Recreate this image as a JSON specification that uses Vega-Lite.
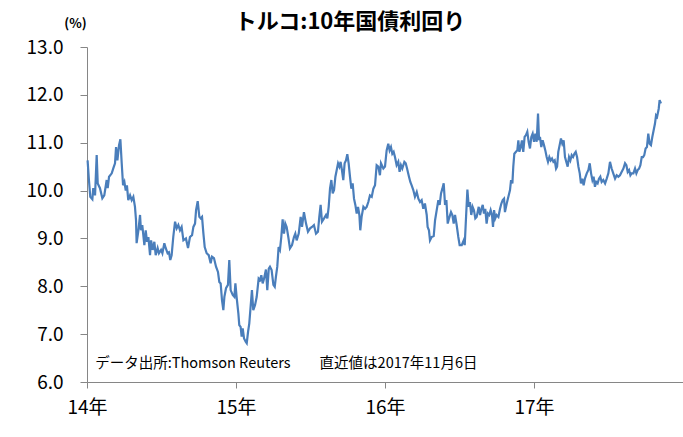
{
  "$schema": "https://vega.github.io/schema/vega-lite/v6.json",
  "autosize": {"type": "none"},
  "width": 596,
  "height": 335,
  "padding": {"left": 87, "top": 47, "right": 0, "bottom": 55},
  "background": "white",
  "config": {"view": {"stroke": null}, "font": "Noto Sans CJK JP"},
  "title": {"text": "トルコ:10年国債利回り", "fontSize": 22, "fontWeight": "bold", "font": "Noto Sans CJK JP", "color": "#000000", "anchor": "middle", "dx": -35, "offset": -17},
  "datasets": {
    "yield": [
      {"t": 2014.004, "v": 10.63}, {"t": 2014.013, "v": 10.22}, {"t": 2014.022, "v": 9.87}, {"t": 2014.036, "v": 9.82}, {"t": 2014.042, "v": 10.05}, {"t": 2014.054, "v": 9.90}, {"t": 2014.065, "v": 10.74}, {"t": 2014.072, "v": 10.15}, {"t": 2014.087, "v": 10.05}, {"t": 2014.103, "v": 9.84}, {"t": 2014.116, "v": 9.90}, {"t": 2014.132, "v": 10.22}, {"t": 2014.139, "v": 10.05}, {"t": 2014.148, "v": 10.29}, {"t": 2014.166, "v": 10.36}, {"t": 2014.177, "v": 10.47}, {"t": 2014.188, "v": 10.57}, {"t": 2014.195, "v": 10.91}, {"t": 2014.204, "v": 10.63}, {"t": 2014.215, "v": 10.95}, {"t": 2014.224, "v": 11.07}, {"t": 2014.233, "v": 10.57}, {"t": 2014.242, "v": 10.11}, {"t": 2014.251, "v": 10.18}, {"t": 2014.260, "v": 10.00}, {"t": 2014.268, "v": 10.11}, {"t": 2014.277, "v": 9.80}, {"t": 2014.289, "v": 9.90}, {"t": 2014.300, "v": 9.80}, {"t": 2014.311, "v": 9.87}, {"t": 2014.322, "v": 9.66}, {"t": 2014.329, "v": 9.38}, {"t": 2014.333, "v": 8.90}, {"t": 2014.345, "v": 9.17}, {"t": 2014.356, "v": 9.49}, {"t": 2014.362, "v": 9.17}, {"t": 2014.371, "v": 9.28}, {"t": 2014.385, "v": 8.86}, {"t": 2014.394, "v": 9.17}, {"t": 2014.403, "v": 8.93}, {"t": 2014.412, "v": 9.03}, {"t": 2014.423, "v": 8.65}, {"t": 2014.430, "v": 8.96}, {"t": 2014.441, "v": 8.76}, {"t": 2014.452, "v": 8.93}, {"t": 2014.461, "v": 8.65}, {"t": 2014.474, "v": 8.80}, {"t": 2014.483, "v": 8.69}, {"t": 2014.497, "v": 8.76}, {"t": 2014.506, "v": 8.69}, {"t": 2014.519, "v": 8.90}, {"t": 2014.528, "v": 8.80}, {"t": 2014.541, "v": 8.69}, {"t": 2014.550, "v": 8.71}, {"t": 2014.559, "v": 8.55}, {"t": 2014.568, "v": 8.65}, {"t": 2014.579, "v": 9.03}, {"t": 2014.591, "v": 9.35}, {"t": 2014.602, "v": 9.21}, {"t": 2014.613, "v": 9.28}, {"t": 2014.624, "v": 9.17}, {"t": 2014.635, "v": 9.24}, {"t": 2014.647, "v": 8.96},
      {"t": 2014.664, "v": 9.00}, {"t": 2014.678, "v": 8.80}, {"t": 2014.691, "v": 9.03}, {"t": 2014.705, "v": 9.07}, {"t": 2014.714, "v": 9.24}, {"t": 2014.725, "v": 9.31}, {"t": 2014.732, "v": 9.59}, {"t": 2014.743, "v": 9.78}, {"t": 2014.754, "v": 9.45}, {"t": 2014.763, "v": 9.42}, {"t": 2014.772, "v": 9.45}, {"t": 2014.781, "v": 9.11}, {"t": 2014.790, "v": 8.82}, {"t": 2014.803, "v": 8.69}, {"t": 2014.817, "v": 8.65}, {"t": 2014.830, "v": 8.48}, {"t": 2014.839, "v": 8.62}, {"t": 2014.852, "v": 8.59}, {"t": 2014.866, "v": 8.41}, {"t": 2014.879, "v": 8.30}, {"t": 2014.888, "v": 8.09}, {"t": 2014.897, "v": 8.06}, {"t": 2014.906, "v": 7.71}, {"t": 2014.915, "v": 7.50}, {"t": 2014.922, "v": 7.78}, {"t": 2014.933, "v": 7.96}, {"t": 2014.946, "v": 8.03}, {"t": 2014.955, "v": 8.55}, {"t": 2014.964, "v": 7.92}, {"t": 2014.978, "v": 7.82}, {"t": 2014.989, "v": 7.78}, {"t": 2014.996, "v": 8.06}, {"t": 2015.004, "v": 7.78}, {"t": 2015.016, "v": 7.43}, {"t": 2015.022, "v": 7.19}, {"t": 2015.031, "v": 7.15}, {"t": 2015.038, "v": 6.95}, {"t": 2015.045, "v": 7.12}, {"t": 2015.054, "v": 6.91}, {"t": 2015.065, "v": 6.84}, {"t": 2015.072, "v": 6.81}, {"t": 2015.081, "v": 7.05}, {"t": 2015.089, "v": 7.22}, {"t": 2015.098, "v": 7.57}, {"t": 2015.107, "v": 7.92}, {"t": 2015.116, "v": 7.50}, {"t": 2015.128, "v": 7.61}, {"t": 2015.139, "v": 7.78}, {"t": 2015.152, "v": 8.16}, {"t": 2015.161, "v": 8.13}, {"t": 2015.170, "v": 8.23}, {"t": 2015.179, "v": 8.06}, {"t": 2015.188, "v": 8.16}, {"t": 2015.201, "v": 8.35}, {"t": 2015.210, "v": 7.92}, {"t": 2015.220, "v": 8.37},
      {"t": 2015.228, "v": 8.41}, {"t": 2015.239, "v": 8.34}, {"t": 2015.251, "v": 8.03}, {"t": 2015.260, "v": 7.99}, {"t": 2015.268, "v": 8.20}, {"t": 2015.277, "v": 8.41}, {"t": 2015.286, "v": 8.82}, {"t": 2015.295, "v": 8.76}, {"t": 2015.304, "v": 9.03}, {"t": 2015.313, "v": 9.40}, {"t": 2015.322, "v": 9.10}, {"t": 2015.331, "v": 9.31}, {"t": 2015.340, "v": 9.24}, {"t": 2015.351, "v": 9.03}, {"t": 2015.362, "v": 8.79}, {"t": 2015.376, "v": 8.86}, {"t": 2015.389, "v": 9.03}, {"t": 2015.398, "v": 9.10}, {"t": 2015.407, "v": 8.96}, {"t": 2015.421, "v": 9.10}, {"t": 2015.434, "v": 9.45}, {"t": 2015.443, "v": 9.24}, {"t": 2015.456, "v": 9.55}, {"t": 2015.470, "v": 9.31}, {"t": 2015.483, "v": 9.14}, {"t": 2015.497, "v": 9.21}, {"t": 2015.510, "v": 9.24}, {"t": 2015.523, "v": 9.28}, {"t": 2015.537, "v": 9.10}, {"t": 2015.550, "v": 9.14}, {"t": 2015.559, "v": 9.45}, {"t": 2015.568, "v": 9.70}, {"t": 2015.577, "v": 9.35}, {"t": 2015.591, "v": 9.42}, {"t": 2015.604, "v": 9.49}, {"t": 2015.613, "v": 9.42}, {"t": 2015.622, "v": 9.66}, {"t": 2015.631, "v": 10.04}, {"t": 2015.640, "v": 10.22}, {"t": 2015.649, "v": 9.94}, {"t": 2015.658, "v": 10.01}, {"t": 2015.667, "v": 10.29}, {"t": 2015.676, "v": 10.43}, {"t": 2015.685, "v": 10.57}, {"t": 2015.694, "v": 10.50}, {"t": 2015.702, "v": 10.60}, {"t": 2015.711, "v": 10.43}, {"t": 2015.720, "v": 10.22}, {"t": 2015.729, "v": 10.57}, {"t": 2015.738, "v": 10.63}, {"t": 2015.747, "v": 10.76}, {"t": 2015.756, "v": 10.57}, {"t": 2015.765, "v": 10.29}, {"t": 2015.774, "v": 10.04}, {"t": 2015.783, "v": 10.15}, {"t": 2015.792, "v": 9.83}, {"t": 2015.801, "v": 9.70}, {"t": 2015.810, "v": 9.52}, {"t": 2015.819, "v": 9.66}, {"t": 2015.828, "v": 9.49}, {"t": 2015.834, "v": 9.17}, {"t": 2015.843, "v": 9.45}, {"t": 2015.855, "v": 9.66}, {"t": 2015.866, "v": 9.62}, {"t": 2015.877, "v": 9.66},
      {"t": 2015.888, "v": 9.76}, {"t": 2015.899, "v": 9.90}, {"t": 2015.911, "v": 9.87}, {"t": 2015.922, "v": 10.04}, {"t": 2015.933, "v": 10.11}, {"t": 2015.944, "v": 10.53}, {"t": 2015.955, "v": 10.50}, {"t": 2015.966, "v": 10.32}, {"t": 2015.973, "v": 10.57}, {"t": 2015.989, "v": 10.46}, {"t": 2016.000, "v": 10.50}, {"t": 2016.011, "v": 10.84}, {"t": 2016.022, "v": 10.98}, {"t": 2016.031, "v": 10.84}, {"t": 2016.040, "v": 10.91}, {"t": 2016.049, "v": 10.77}, {"t": 2016.058, "v": 10.81}, {"t": 2016.067, "v": 10.70}, {"t": 2016.078, "v": 10.53}, {"t": 2016.089, "v": 10.60}, {"t": 2016.098, "v": 10.39}, {"t": 2016.107, "v": 10.53}, {"t": 2016.116, "v": 10.46}, {"t": 2016.130, "v": 10.60}, {"t": 2016.139, "v": 10.57}, {"t": 2016.148, "v": 10.46}, {"t": 2016.161, "v": 10.29}, {"t": 2016.170, "v": 10.18}, {"t": 2016.179, "v": 10.11}, {"t": 2016.190, "v": 10.01}, {"t": 2016.201, "v": 9.87}, {"t": 2016.213, "v": 9.97}, {"t": 2016.224, "v": 9.83}, {"t": 2016.235, "v": 9.76}, {"t": 2016.246, "v": 9.80}, {"t": 2016.257, "v": 9.62}, {"t": 2016.268, "v": 9.73}, {"t": 2016.280, "v": 9.49}, {"t": 2016.286, "v": 9.24}, {"t": 2016.295, "v": 9.17}, {"t": 2016.302, "v": 8.96}, {"t": 2016.313, "v": 9.03}, {"t": 2016.327, "v": 9.05}, {"t": 2016.336, "v": 9.38}, {"t": 2016.347, "v": 9.59}, {"t": 2016.358, "v": 9.80}, {"t": 2016.367, "v": 9.70}, {"t": 2016.376, "v": 9.94}, {"t": 2016.385, "v": 10.04}, {"t": 2016.394, "v": 10.15}, {"t": 2016.403, "v": 9.70}, {"t": 2016.412, "v": 9.80}, {"t": 2016.421, "v": 9.31}, {"t": 2016.430, "v": 9.42}, {"t": 2016.443, "v": 9.55}, {"t": 2016.452, "v": 9.49}, {"t": 2016.461, "v": 9.31}, {"t": 2016.470, "v": 9.49}, {"t": 2016.481, "v": 9.28}, {"t": 2016.492, "v": 9.03}, {"t": 2016.501, "v": 8.86}, {"t": 2016.515, "v": 8.86}, {"t": 2016.528, "v": 8.96},
      {"t": 2016.535, "v": 8.86}, {"t": 2016.544, "v": 9.45}, {"t": 2016.553, "v": 10.02}, {"t": 2016.562, "v": 9.66}, {"t": 2016.570, "v": 9.76}, {"t": 2016.579, "v": 9.49}, {"t": 2016.588, "v": 9.66}, {"t": 2016.597, "v": 9.59}, {"t": 2016.606, "v": 9.42}, {"t": 2016.615, "v": 9.45}, {"t": 2016.629, "v": 9.66}, {"t": 2016.638, "v": 9.49}, {"t": 2016.647, "v": 9.62}, {"t": 2016.656, "v": 9.70}, {"t": 2016.664, "v": 9.52}, {"t": 2016.673, "v": 9.62}, {"t": 2016.682, "v": 9.31}, {"t": 2016.691, "v": 9.52}, {"t": 2016.700, "v": 9.49}, {"t": 2016.709, "v": 9.59}, {"t": 2016.718, "v": 9.49}, {"t": 2016.725, "v": 9.24}, {"t": 2016.732, "v": 9.59}, {"t": 2016.740, "v": 9.42}, {"t": 2016.749, "v": 9.49}, {"t": 2016.761, "v": 9.45}, {"t": 2016.772, "v": 9.62}, {"t": 2016.781, "v": 9.73}, {"t": 2016.790, "v": 9.80}, {"t": 2016.799, "v": 9.83}, {"t": 2016.805, "v": 9.55}, {"t": 2016.817, "v": 9.73}, {"t": 2016.828, "v": 9.87}, {"t": 2016.839, "v": 10.01}, {"t": 2016.846, "v": 10.22}, {"t": 2016.855, "v": 10.15}, {"t": 2016.861, "v": 10.50}, {"t": 2016.868, "v": 10.77}, {"t": 2016.879, "v": 10.81}, {"t": 2016.888, "v": 10.84}, {"t": 2016.895, "v": 11.05}, {"t": 2016.902, "v": 10.81}, {"t": 2016.911, "v": 10.91}, {"t": 2016.919, "v": 11.05}, {"t": 2016.928, "v": 10.81}, {"t": 2016.937, "v": 11.12}, {"t": 2016.946, "v": 11.16}, {"t": 2016.955, "v": 11.23}, {"t": 2016.964, "v": 11.02}, {"t": 2016.973, "v": 10.88}, {"t": 2016.982, "v": 11.12}, {"t": 2016.991, "v": 11.19}, {"t": 2017.000, "v": 11.02}, {"t": 2017.009, "v": 11.19}, {"t": 2017.018, "v": 11.02}, {"t": 2017.027, "v": 11.61}, {"t": 2017.034, "v": 11.05}, {"t": 2017.040, "v": 11.12}, {"t": 2017.049, "v": 10.91}, {"t": 2017.058, "v": 11.05}, {"t": 2017.067, "v": 10.95}, {"t": 2017.076, "v": 10.84}, {"t": 2017.085, "v": 10.70}, {"t": 2017.094, "v": 10.60}, {"t": 2017.103, "v": 10.70}, {"t": 2017.112, "v": 10.63}, {"t": 2017.121, "v": 10.67}, {"t": 2017.130, "v": 10.60}, {"t": 2017.139, "v": 10.63}, {"t": 2017.148, "v": 10.46}, {"t": 2017.155, "v": 10.50},
      {"t": 2017.163, "v": 10.81}, {"t": 2017.172, "v": 10.95}, {"t": 2017.181, "v": 11.09}, {"t": 2017.190, "v": 10.98}, {"t": 2017.199, "v": 11.05}, {"t": 2017.208, "v": 10.70}, {"t": 2017.217, "v": 10.60}, {"t": 2017.226, "v": 10.50}, {"t": 2017.235, "v": 10.70}, {"t": 2017.244, "v": 10.63}, {"t": 2017.253, "v": 10.74}, {"t": 2017.262, "v": 10.70}, {"t": 2017.271, "v": 10.77}, {"t": 2017.280, "v": 10.81}, {"t": 2017.289, "v": 10.70}, {"t": 2017.298, "v": 10.50}, {"t": 2017.307, "v": 10.36}, {"t": 2017.315, "v": 10.15}, {"t": 2017.324, "v": 10.25}, {"t": 2017.333, "v": 10.11}, {"t": 2017.342, "v": 10.25}, {"t": 2017.354, "v": 10.36}, {"t": 2017.365, "v": 10.43}, {"t": 2017.374, "v": 10.57}, {"t": 2017.383, "v": 10.36}, {"t": 2017.392, "v": 10.22}, {"t": 2017.400, "v": 10.29}, {"t": 2017.409, "v": 10.08}, {"t": 2017.418, "v": 10.18}, {"t": 2017.427, "v": 10.15}, {"t": 2017.436, "v": 10.25}, {"t": 2017.445, "v": 10.29}, {"t": 2017.454, "v": 10.18}, {"t": 2017.465, "v": 10.22}, {"t": 2017.477, "v": 10.15}, {"t": 2017.488, "v": 10.25}, {"t": 2017.499, "v": 10.36}, {"t": 2017.510, "v": 10.60}, {"t": 2017.521, "v": 10.46}, {"t": 2017.532, "v": 10.36}, {"t": 2017.544, "v": 10.25}, {"t": 2017.555, "v": 10.32}, {"t": 2017.566, "v": 10.29}, {"t": 2017.577, "v": 10.32}, {"t": 2017.588, "v": 10.39}, {"t": 2017.600, "v": 10.46}, {"t": 2017.611, "v": 10.57}, {"t": 2017.620, "v": 10.53}, {"t": 2017.629, "v": 10.39}, {"t": 2017.638, "v": 10.43}, {"t": 2017.647, "v": 10.32}, {"t": 2017.655, "v": 10.36}, {"t": 2017.667, "v": 10.36}, {"t": 2017.678, "v": 10.46}, {"t": 2017.687, "v": 10.36}, {"t": 2017.696, "v": 10.43}, {"t": 2017.705, "v": 10.46}, {"t": 2017.714, "v": 10.53}, {"t": 2017.723, "v": 10.70}, {"t": 2017.732, "v": 10.70}, {"t": 2017.740, "v": 10.74}, {"t": 2017.749, "v": 10.88}, {"t": 2017.758, "v": 10.91}, {"t": 2017.767, "v": 11.19}, {"t": 2017.776, "v": 10.98}, {"t": 2017.785, "v": 10.95}, {"t": 2017.794, "v": 11.12}, {"t": 2017.803, "v": 11.26}, {"t": 2017.812, "v": 11.40}, {"t": 2017.819, "v": 11.57}, {"t": 2017.826, "v": 11.54}, {"t": 2017.837, "v": 11.71}, {"t": 2017.843, "v": 11.89}, {"t": 2017.852, "v": 11.82}
    ],
    "note": [
      {"t": 2014.055, "v": 6.38, "label": "データ出所:Thomson Reuters　　直近値は2017年11月6日"}
    ]
  },
  "layer": [
    {
      "data": {"name": "yield"},
      "mark": {"type": "line", "color": "#4A7EBB", "strokeWidth": 2.2, "interpolate": "linear"},
      "encoding": {
        "x": {
          "field": "t", "type": "quantitative",
          "scale": {"domain": [2014, 2018], "nice": false, "zero": false},
          "axis": {
            "values": [2014, 2015, 2016, 2017],
            "labelExpr": "substring(toString(datum.value), 2) + '年'",
            "title": null, "grid": false,
            "domainColor": "#868686", "tickColor": "#868686", "tickSize": 6,
            "labelFont": "Noto Sans CJK JP", "labelFontSize": 19, "labelColor": "#000000",
            "labelPadding": 10, "labelFlush": false
          }
        },
        "y": {
          "field": "v", "type": "quantitative",
          "scale": {"domain": [6, 13], "nice": false, "zero": false},
          "axis": {
            "values": [6, 7, 8, 9, 10, 11, 12, 13],
            "format": ".1f",
            "title": "(%)", "titleAngle": 0, "titleFont": "Noto Sans CJK JP", "titleFontSize": 13, "titleFontWeight": "bold", "titleColor": "#000000",
            "titleAlign": "center", "titleBaseline": "middle", "titleX": -12, "titleY": -24,
            "grid": false,
            "domainColor": "#868686", "tickColor": "#868686", "tickSize": 7,
            "labelFont": "Noto Sans CJK JP", "labelFontSize": 19, "labelColor": "#000000",
            "labelPadding": 17
          }
        }
      }
    },
    {
      "data": {"name": "note"},
      "mark": {"type": "text", "align": "left", "baseline": "middle", "font": "Noto Sans CJK JP", "fontSize": 14.5, "color": "#000000"},
      "encoding": {
        "x": {"field": "t", "type": "quantitative"},
        "y": {"field": "v", "type": "quantitative"},
        "text": {"field": "label"}
      }
    }
  ]
}
